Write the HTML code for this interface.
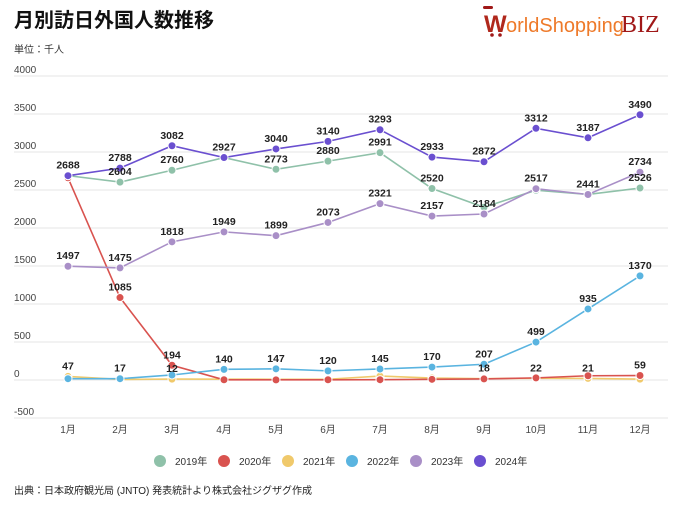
<!DOCTYPE html>
<html><head><meta charset="utf-8"><style>
body{margin:0;background:#fff;width:680px;height:502px;overflow:hidden;font-family:"Liberation Sans","Noto Sans CJK JP",sans-serif}
</style></head><body>
<svg width="680" height="502" xmlns="http://www.w3.org/2000/svg" font-family="Liberation Sans, Noto Sans CJK JP, sans-serif">
<text x="14" y="27" font-size="20" font-weight="bold" fill="#111">月別訪日外国人数推移</text>
<g font-size="22" font-weight="bold">
<rect x="483" y="6" width="10" height="3" rx="1.5" fill="#a01818"/>
<text x="484" y="32" fill="#b0281c" font-size="24">W</text>
<text x="506" y="32" fill="#ee7a2a" font-size="20" font-weight="normal">orldShopping</text>
<text x="621" y="32" fill="#a01818" font-size="24" font-weight="normal" font-family="Liberation Serif, serif">BIZ</text>
<circle cx="492" cy="35" r="1.8" fill="#a01818"/><circle cx="500" cy="35" r="1.8" fill="#a01818"/>
</g>
<text x="14" y="53" font-size="10" fill="#333">単位：千人</text>
<g stroke="#e6e6e6" stroke-width="1">
<line x1="14" x2="668" y1="76" y2="76"/><line x1="14" x2="668" y1="114" y2="114"/><line x1="14" x2="668" y1="152" y2="152"/><line x1="14" x2="668" y1="190" y2="190"/><line x1="14" x2="668" y1="228" y2="228"/><line x1="14" x2="668" y1="266" y2="266"/><line x1="14" x2="668" y1="304" y2="304"/><line x1="14" x2="668" y1="342" y2="342"/><line x1="14" x2="668" y1="380" y2="380"/><line x1="14" x2="668" y1="418" y2="418"/>
</g>
<g font-size="10" fill="#444">
<text x="14" y="73">4000</text><text x="14" y="111">3500</text><text x="14" y="149">3000</text><text x="14" y="187">2500</text><text x="14" y="225">2000</text><text x="14" y="263">1500</text><text x="14" y="301">1000</text><text x="14" y="339">500</text><text x="14" y="377">0</text><text x="14" y="415">-500</text>
</g>
<g font-size="10" fill="#444" text-anchor="middle">
<text x="68" y="433">1月</text><text x="120" y="433">2月</text><text x="172" y="433">3月</text><text x="224" y="433">4月</text><text x="276" y="433">5月</text><text x="328" y="433">6月</text><text x="380" y="433">7月</text><text x="432" y="433">8月</text><text x="484" y="433">9月</text><text x="536" y="433">10月</text><text x="588" y="433">11月</text><text x="640" y="433">12月</text>
</g>
<g id="series" fill="none" stroke-width="1.6"></g>
<g font-size="10" fill="#333">
<circle cx="160" cy="461" r="6" fill="#8fc1a9"/><text x="175" y="465">2019年</text>
<circle cx="224" cy="461" r="6" fill="#d9534f"/><text x="239" y="465">2020年</text>
<circle cx="288" cy="461" r="6" fill="#f0c96b"/><text x="303" y="465">2021年</text>
<circle cx="352" cy="461" r="6" fill="#5ab4e0"/><text x="367" y="465">2022年</text>
<circle cx="416" cy="461" r="6" fill="#a98fc7"/><text x="431" y="465">2023年</text>
<circle cx="480" cy="461" r="6" fill="#6a4fd0"/><text x="495" y="465">2024年</text>
</g>
<text x="14" y="494" font-size="10" fill="#222">出典：日本政府観光局 (JNTO) 発表統計より株式会社ジグザグ作成</text>
</svg>
<script>
const S=[
["#f0c96b",[47,7,12,11,10,10,52,26,18,22,21,12],[1,0,1,0,0,0,0,0,1,1,1,0]],
["#d9534f",[2661,1085,194,3,2,3,4,9,14,28,56,59],[0,1,1,0,0,0,0,0,0,0,0,1]],
["#5ab4e0",[17,17,66,140,147,120,145,170,207,499,935,1370],[0,1,0,1,1,1,1,1,1,1,1,1]],
["#8fc1a9",[2689,2604,2760,2927,2773,2880,2991,2520,2273,2497,2442,2526],[0,1,1,0,1,1,1,1,0,0,0,1]],
["#a98fc7",[1497,1475,1818,1949,1899,2073,2321,2157,2184,2517,2441,2734],[1,1,1,1,1,1,1,1,1,1,1,1]],
["#6a4fd0",[2688,2788,3082,2927,3040,3140,3293,2933,2872,3312,3187,3490],[1,1,1,1,1,1,1,1,1,1,1,1]]];
const ns="http://www.w3.org/2000/svg",g=document.getElementById("series");
const X=i=>68+52*i,Y=v=>380-v*0.076;
let labels=[];
S.forEach(([c,d,l])=>{
 const p=document.createElementNS(ns,"polyline");
 p.setAttribute("points",d.map((v,i)=>X(i)+","+Y(v)).join(" "));p.setAttribute("stroke",c);g.appendChild(p);
 d.forEach((v,i)=>{const e=document.createElementNS(ns,"circle");e.setAttribute("cx",X(i));e.setAttribute("cy",Y(v));e.setAttribute("r",4);e.setAttribute("fill",c);e.setAttribute("stroke","#fff");e.setAttribute("stroke-width",1);g.appendChild(e);
  if(l[i])labels.push([X(i),Y(v)-7,v]);});
});
labels.forEach(([x,y,v])=>{const t=document.createElementNS(ns,"text");t.setAttribute("x",x);t.setAttribute("y",y);t.setAttribute("text-anchor","middle");t.setAttribute("font-size","10.5");t.setAttribute("font-weight","bold");t.setAttribute("fill","#222");t.setAttribute("stroke","none");t.textContent=v;g.appendChild(t);});
</script>
</body></html>
